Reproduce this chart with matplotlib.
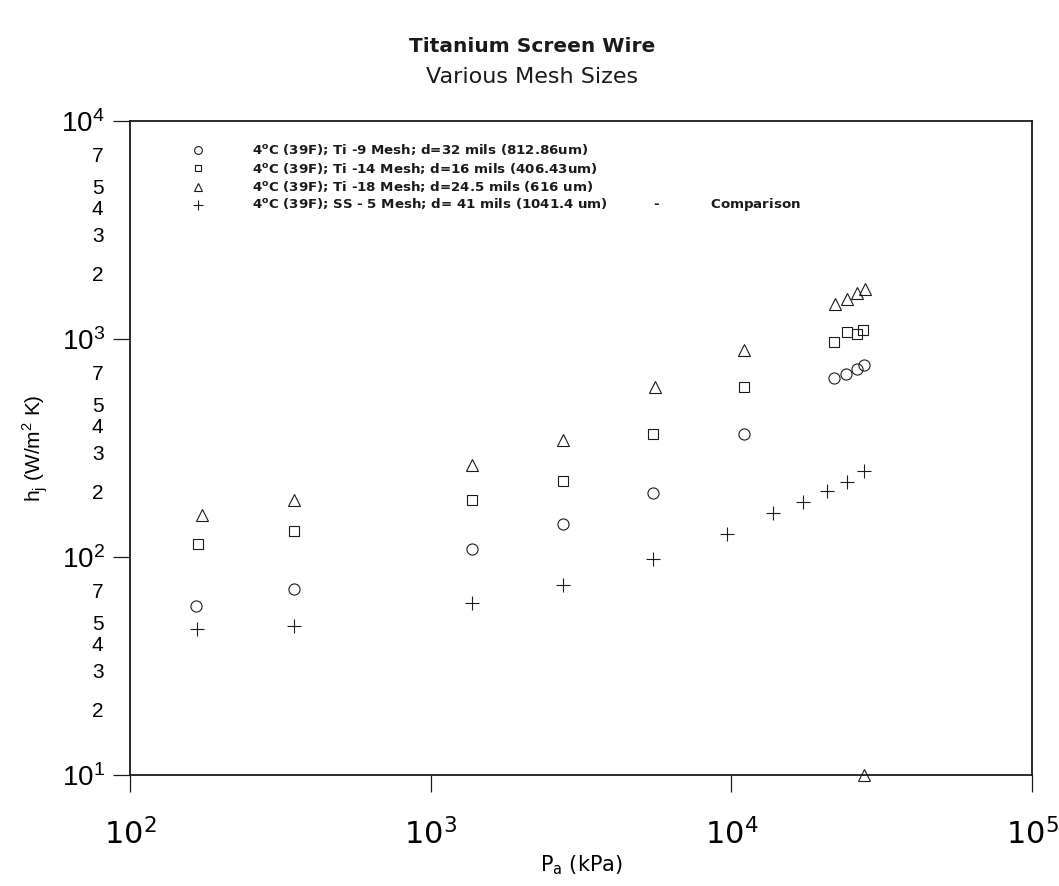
import matplotlib

matplotlib.use("Agg")

import matplotlib.pyplot as plt
import numpy as np
from matplotlib.ticker import FixedLocator, FuncFormatter, NullLocator

# pressure P_a (kPa) and joint conductance h_j (W/m^2 K)
ti9_p = [166, 351, 1369, 2761, 5490, 11020, 21950, 24150, 26130, 27520]
ti9_h = [59.8, 71.3, 108.8, 141.7, 196, 365, 665, 691, 729, 760]

ti14_p = [168, 351, 1369, 2761, 5490, 11020, 21950, 24180, 26100, 27450]
ti14_h = [115, 131, 183, 223, 366, 600, 969, 1077, 1051, 1100]

ti18_p = [174, 351, 1376, 2761, 5560, 11020, 22070, 24180, 26240, 27830, 27520]
ti18_h = [156, 183, 264, 344, 600, 890, 1443, 1521, 1620, 1690, 10]

ss5_p = [167, 351, 1369, 2761, 5500, 9650, 13790, 17270, 20760, 24190, 27620]
ss5_h = [46.7, 48.4, 61.5, 74.4, 97.6, 127, 158.7, 179.4, 200.8, 221.5, 248]

labels = [
    r"4$^{\mathregular{o}}$C (39F); Ti -9 Mesh; d=32 mils (812.86um)",
    r"4$^{\mathregular{o}}$C (39F); Ti -14 Mesh; d=16 mils (406.43um)",
    r"4$^{\mathregular{o}}$C (39F); Ti -18 Mesh; d=24.5 mils (616 um)",
    r"4$^{\mathregular{o}}$C (39F); SS - 5 Mesh; d= 41 mils (1041.4 um)"
    r"          -           Comparison",
]

x_decades = [1e2, 1e3, 1e4, 1e5]
y_decades = [1e1, 1e2, 1e3, 1e4]
y_minor = [m * d for d in (1e1, 1e2, 1e3) for m in (2, 3, 4, 5, 7)]

INK = "#1a1a1a"

fig = plt.figure(figsize=(10.59, 8.86), dpi=100)
ax = fig.add_axes([130 / 1059, 1 - 775 / 886, 902 / 1059, 654 / 886])

series = [
    (ti9_p, ti9_h, "o", 8, "none"),
    (ti14_p, ti14_h, "s", 6.5, "none"),
    (ti18_p, ti18_h, "^", 8.5, "none"),
    (ss5_p, ss5_h, "+", 10.5, INK),
]
for p, h, m, ms, mfc in series:
    ax.plot(p, h, ls="none", marker=m, ms=ms, mfc=mfc, mec=INK, mew=0.8,
            clip_on=False)

ax.set_xscale("log")
ax.set_yscale("log")
ax.set_xlim(1e2, 1e5)
ax.set_ylim(1e1, 1e4)

dec_fmt = FuncFormatter(
    lambda v, p: rf"$\mathregular{{10^{{{int(round(np.log10(v)))}}}}}$")
ax.xaxis.set_major_locator(FixedLocator(x_decades))
ax.xaxis.set_minor_locator(NullLocator())
ax.xaxis.set_major_formatter(dec_fmt)
ax.yaxis.set_major_locator(FixedLocator(y_decades))
ax.yaxis.set_minor_locator(FixedLocator(y_minor))
ax.yaxis.set_major_formatter(dec_fmt)
ax.yaxis.set_minor_formatter(FuncFormatter(
    lambda v, p: f"{v / 10 ** np.floor(np.log10(v) + 1e-9):.0f}"))

ax.tick_params(which="major", direction="out", length=12, width=0.9,
               color=INK, top=False, right=False)
ax.tick_params(axis="y", which="major", labelsize=20, pad=6)
ax.tick_params(axis="y", which="minor", length=0, pad=19, labelsize=15)
ax.tick_params(axis="x", which="major", labelsize=22, pad=19)
for lab in ax.get_yticklabels(which="both"):
    lab.set_family("Liberation Sans")
for lab in ax.get_xticklabels():
    lab.set_family("Liberation Sans Narrow")
for s in ax.spines.values():
    s.set_linewidth(1.3)
    s.set_color(INK)

ax.set_ylabel(r"h$_\mathregular{j}$ (W/m$^\mathregular{2}$ K)",
              family="Liberation Sans", fontsize=15, labelpad=8)
ax.set_xlabel(r"P$_\mathregular{a}$ (kPa)", family="Liberation Sans Narrow",
              fontsize=15, labelpad=2)

# legend drawn by hand: small markers, text column to the right
for i, ((_, _, m, ms, mfc), lab) in enumerate(zip(series, labels)):
    y = 0.9557 - i * 0.028
    ax.plot([0.0757], [y], ls="none", marker=m, ms=ms * 0.7, mfc=mfc,
            mec=INK, mew=0.8, transform=ax.transAxes)
    ax.text(0.135, y, lab, transform=ax.transAxes, va="center", ha="left",
            fontsize=9.6, family="DejaVu Sans", fontweight="bold", color=INK)

fig.text(0.5025, 1 - 47 / 886, "Titanium Screen Wire", ha="center",
         va="center", fontsize=14.5, family="DejaVu Sans", fontweight="bold",
         color=INK)
fig.text(0.5025, 1 - 77 / 886, "Various Mesh Sizes", ha="center",
         va="center", fontsize=16, family="DejaVu Sans", color=INK)

fig.savefig("out.png", dpi=100)
